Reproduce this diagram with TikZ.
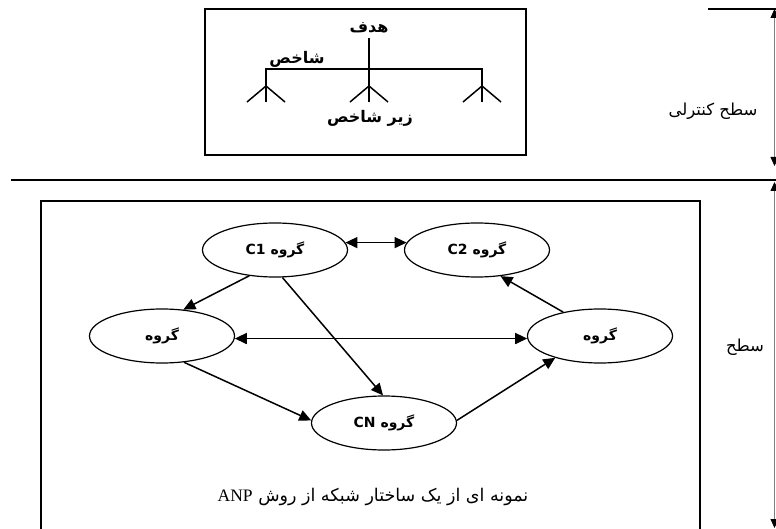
\documentclass[tikz,border=0pt]{standalone}
\usepackage{fontspec}
\setmainfont{DejaVu Sans}
\newfontfamily\fa[Script=Arabic]{DejaVu Sans}
\newfontfamily\tnr{Liberation Serif}
\TeXXeTstate=1
\usetikzlibrary{shapes.geometric,arrows.meta}
\begin{document}
\begin{tikzpicture}[x=1pt,y=-1pt,
  grp/.style={draw, ellipse, line width=1.2pt, minimum width=145pt, minimum height=54pt, inner sep=0pt,
    font=\fa\bfseries\fontsize{14}{16}\selectfont},
  conn/.style={line width=1.5pt, -{Triangle[length=12pt,width=11pt]}},
  bconn/.style={line width=1.5pt, {Triangle[length=12pt,width=11pt]}-{Triangle[length=12pt,width=11pt]}},
  frame/.style={line width=1.3pt},
  tree/.style={line width=1.5pt},
  blbl/.style={inner sep=0pt, font=\fa\bfseries\fontsize{16}{18}\selectfont},
  rlbl/.style={inner sep=0pt, font=\fa\fontsize{16.5}{19}\selectfont},
  side/.style={line width=0.8pt, draw=gray, {Triangle[length=9pt,width=8pt,fill=black,color=black]}-{Triangle[length=9pt,width=8pt,fill=black,color=black]}},
  rule/.style={line width=1.4pt}
]
\useasboundingbox (0,0) rectangle (776,529);
\clip (0,0) rectangle (776,529);

% top box
\coordinate (tb1) at (205,9);
\coordinate (tb2) at (526,155);
\draw[frame] (tb1) rectangle (tb2);

\node[blbl] (goal) at (369,28) {\beginR هدف\endR};
\node[blbl] (crit) at (297,59) {\beginR شاخص\endR};
\node[blbl] (sub) at (370,118) {\beginR زیر شاخص\endR};

\coordinate (gs) at (369,38);
\coordinate (bl) at (266,69);
\coordinate (br) at (482,69);
\foreach \x/\n in {266/a,369/b,482/c}{
  \coordinate (ap\n) at (\x,86);
  \coordinate (ft\n) at (\x,102);
  \coordinate (fl\n) at (\x-19,102);
  \coordinate (fr\n) at (\x+19,102);
}
\draw[tree] (gs) -- (ftb);
\draw[tree] (fta) -- (bl) -- (br) -- (ftc);
\draw[tree] (fla) -- (apa) -- (fra);
\draw[tree] (flb) -- (apb) -- (frb);
\draw[tree] (flc) -- (apc) -- (frc);

% right side levels
\coordinate (tr0) at (708,9);
\coordinate (tr1) at (776,9);
\draw[rule] (tr0) -- (tr1);
\coordinate (va1) at (774.5,9);
\coordinate (va2) at (774.5,166);
\draw[side] (va1) -- (va2);
\node[rlbl] (ctrl) at (713,111) {\beginR سطح کنترلی\endR};

\coordinate (hr0) at (11,180);
\coordinate (hr1) at (776,180);
\draw[rule] (hr0) -- (hr1);
\coordinate (vb1) at (774.5,182);
\coordinate (vb2) at (774.5,528);
\draw[side] (vb1) -- (vb2);
\node[rlbl] (net) at (745,347) {\beginR سطح\endR};

% lower box
\coordinate (lb1) at (41,201);
\coordinate (lb2) at (700,560);
\draw[frame] (lb1) rectangle (lb2);

% groups
\node[grp] (c1) at (275,250) {\beginR گروه \beginL C1\endL\endR};
\node[grp] (c2) at (477,250) {\beginR گروه \beginL C2\endL\endR};
\node[grp] (gl) at (162,336) {\beginR گروه\endR};
\node[grp] (gr) at (600,336) {\beginR گروه\endR};
\node[grp] (cn) at (384,423) {\beginR گروه \beginL CN\endL\endR};

\draw[bconn] (c1.6) -- (c2.174);
\draw[bconn] (gl.358) -- (gr.182);
\draw[conn] (c1.225) -- (gl.51);
\draw[conn] (c1.285) -- (cn.92);
\draw[conn] (gl.310) -- (cn.178);
\draw[conn] (cn.2) -- (gr.206);
\draw[conn] (gr.147) -- (c2.312);

\node[inner sep=0pt, font=\fa\fontsize{17.5}{20}\selectfont] (cap) at (373,497)
  {\beginR نمونه ای از یک ساختار شبکه از روش \beginL{\tnr ANP}\endL\endR};
\end{tikzpicture}
\end{document}
